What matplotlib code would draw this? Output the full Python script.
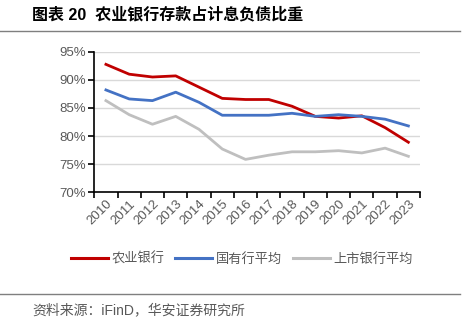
import matplotlib
matplotlib.use("Agg")
import matplotlib.pyplot as plt
from matplotlib.lines import Line2D
import numpy as np

plt.rcParams['font.family'] = ['Liberation Sans', 'Noto Sans CJK SC', 'DejaVu Sans']

years = ['2010', '2011', '2012', '2013', '2014', '2015', '2016', '2017',
         '2018', '2019', '2020', '2021', '2022', '2023']
abc = [92.75, 91.0, 90.5, 90.7, 88.7, 86.7, 86.5, 86.5, 85.3, 83.5, 83.2, 83.6, 81.5, 78.9]
soe_avg = [88.2, 86.6, 86.3, 87.8, 86.0, 83.7, 83.7, 83.7, 84.05, 83.5, 83.8, 83.5, 83.0, 81.8]
listed_avg = [86.3, 83.8, 82.1, 83.5, 81.2, 77.7, 75.85, 76.6, 77.2, 77.2, 77.4, 77.0, 77.85, 76.4]
series_names = ['农业银行', '国有行平均', '上市银行平均']
colors = ['#C00000', '#4472C4', '#BFBFBF']
title = '图表 20  农业银行存款占计息负债比重'
source = '资料来源：iFinD，华安证券研究所'

W, H = 469, 321
fig = plt.figure(figsize=(W / 100, H / 100), dpi=100)

ax = fig.add_axes([94.3 / W, 1 - 192.3 / H, (420 - 94.3) / W, (192.3 - 51.7) / H])
x = np.arange(len(years))
for vals, c in zip([abc, soe_avg, listed_avg], colors):
    ax.plot(x, vals, color=c, lw=2.0, solid_joinstyle='round', zorder=3)

ax.set_xlim(-0.5, len(years) - 0.5)
ax.set_ylim(70, 95)
ax.set_yticks(np.arange(70, 96, 5))
ax.set_yticklabels([f'{v}%' for v in range(70, 96, 5)])
ax.yaxis.grid(True, color='#D9D9D9', lw=1.0)
ax.set_axisbelow(True)
ax.set_xticks(np.arange(-0.5, len(years)), minor=False)
ax.set_xticklabels([])
ax.set_xticks(x, minor=True)
ax.set_xticklabels(years, minor=True, rotation=45, ha='right', va='top',
                   rotation_mode='anchor')
ax.tick_params(axis='x', which='minor', length=0, pad=4, labelsize=9.5, labelcolor='#595959')
ax.tick_params(axis='x', which='major', length=4, width=1.2, color='black')
ax.tick_params(axis='y', length=4, width=1.2, color='black', labelsize=9.5, labelcolor='#595959', pad=2)
for s in ['top', 'right']:
    ax.spines[s].set_visible(False)
for s in ['left', 'bottom']:
    ax.spines[s].set_color('black')
    ax.spines[s].set_linewidth(1.2)

handles = [Line2D([], [], color=c, lw=2.2) for c in colors]
leg = fig.legend(handles, series_names, loc='center', bbox_to_anchor=(242 / W, 1 - 259 / H),
                 ncol=3, frameon=False, handlelength=2.8, handletextpad=0.3, columnspacing=0.8,
                 prop={'family': ['Noto Sans CJK SC'], 'size': 9.5})
for t in leg.get_texts():
    t.set_color('#595959')

fig.text(32 / W, 1 - 15 / H, title, fontsize=11.5, fontweight='bold', ha='left', va='center',
         family=['Liberation Sans', 'Noto Sans CJK SC'], color='#000000')
fig.add_artist(Line2D([0, 460 / W], [1 - 31 / H, 1 - 31 / H], color='#7F7F7F', lw=1.0))
fig.add_artist(Line2D([0, 460 / W], [1 - 294 / H, 1 - 294 / H], color='#7F7F7F', lw=1.0))
fig.text(32 / W, 1 - 310 / H, source, fontsize=10, ha='left', va='center',
         family=['Liberation Sans', 'Noto Sans CJK SC'], color='#595959')

fig.savefig('out.png', dpi=100)
